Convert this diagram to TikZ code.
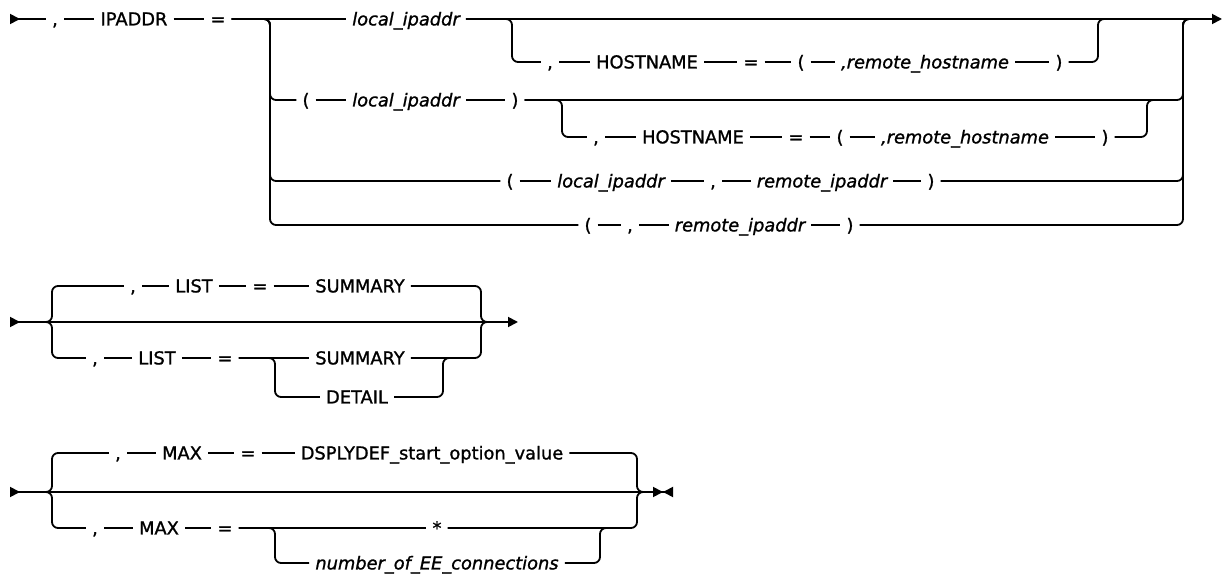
\documentclass[tikz,border=0pt]{standalone}
\usepackage{fontspec}
\setmainfont{DejaVu Sans}[FakeBold=1.2]
\usetikzlibrary{arrows.meta}
\tikzset{
  kw/.style={inner xsep=6pt, inner ysep=0pt, text height=12.8pt, text depth=0pt,
             font=\fontsize{17.8}{21}\selectfont},
  var/.style={kw, font=\fontsize{17.8}{21}\selectfont\itshape},
  rail/.style={line width=1.8pt, rounded corners=6pt},
  railin/.tip={Triangle[reversed, length=10pt, width=10pt]},
  railout/.tip={Triangle[length=10pt, width=10pt]},
  railstop/.tip={Triangle[length=10pt, width=10pt, sep=0pt]Triangle[reversed, length=10pt, width=10pt]}
}
\newcommand{\trailgap}{\hspace{10pt}}

\begin{document}
\begin{tikzpicture}[x=1pt, y=-1pt]
\useasboundingbox (0,0) rectangle (1224,577);
% IPADDR
\coordinate (ip-in) at (10,19);
\coordinate (ip-out) at (1222,19);
\coordinate (ip-l) at (270,19);
\coordinate (ip-r) at (1183,19);
\coordinate (hn1-l) at (512,19);
\coordinate (hn1-r) at (1098,19);
\coordinate (hn2-l) at (562,100);
\coordinate (hn2-r) at (1147,100);
\node[kw] (ip-comma) at (55,19) {,};
\node[kw] (ipaddr) at (134,19) {IPADDR};
\node[kw] (ip-eq) at (218,19) {=};
\node[var] (loc1) at (406,19) {local\_ipaddr};
\node[kw] (hn1-comma) at (550,62) {,};
\node[kw] (hn1) at (647,62) {HOSTNAME};
\node[kw] (hn1-eq) at (751,62) {=};
\node[kw] (hn1-lp) at (801,62) {(};
\node[var] (hn1-rh) at (925,62) {,remote\_hostname};
\node[kw] (hn1-rp) at (1059,62) {)};
\node[kw] (lp3) at (306,100) {(};
\node[var] (loc3) at (406,100) {local\_ipaddr};
\node[kw] (rp3) at (515,100) {)};
\node[kw] (hn2-comma) at (596,137) {,};
\node[kw] (hn2) at (693,137) {HOSTNAME};
\node[kw] (hn2-eq) at (796,137) {=};
\node[kw] (hn2-lp) at (840,137) {(};
\node[var] (hn2-rh) at (965,137) {,remote\_hostname};
\node[kw] (hn2-rp) at (1105,137) {)};
\node[kw] (lp5) at (510,181) {(};
\node[var] (loc5) at (611,181) {local\_ipaddr};
\node[kw] (c5) at (713,181) {,};
\node[var] (rem5) at (822,181) {remote\_ipaddr};
\node[kw] (rp5) at (931,181) {)};
\node[kw] (lp6) at (588,225) {(};
\node[kw] (c6) at (630,225) {,};
\node[var] (rem6) at (740,225) {remote\_ipaddr};
\node[kw] (rp6) at (850,225) {)};
\draw[rail, railin-] (ip-in) -- (ip-comma);
\draw[rail] (ip-comma) -- (ipaddr) -- (ip-eq) -- (loc1);
\draw[rail, -railout] (loc1) -- (ip-out);
\draw[rail] (loc1.east) -| (hn1-l |- hn1-comma) -- (hn1-comma);
\draw[rail] (hn1-comma) -- (hn1) -- (hn1-eq) -- (hn1-lp) -- (hn1-rh) -- (hn1-rp);
\draw[rail] (hn1-rp.east) -| (hn1-r) -- ++(12,0);
\draw[rail] (ip-eq.east) -| (ip-l |- lp3) -- (lp3);
\draw[rail] (lp3) -- (loc3) -- (rp3);
\draw[rail] (rp3.east) -| (ip-r) -- ++(12,0);
\draw[rail] (rp3.east) -| (hn2-l |- hn2-comma) -- (hn2-comma);
\draw[rail] (hn2-comma) -- (hn2) -- (hn2-eq) -- (hn2-lp) -- (hn2-rh) -- (hn2-rp);
\draw[rail] (hn2-rp.east) -| (hn2-r) -- ++(12,0);
\draw[rail] (ip-eq.east) -| (ip-l |- lp5) -- (lp5);
\draw[rail] (lp5) -- (loc5) -- (c5) -- (rem5) -- (rp5);
\draw[rail] (rp5.east) -| (ip-r) -- ++(12,0);
\draw[rail] (ip-eq.east) -| (ip-l |- lp6) -- (lp6);
\draw[rail] (lp6) -- (c6) -- (rem6) -- (rp6);
\draw[rail] (rp6.east) -| (ip-r) -- ++(12,0);

% LIST
\coordinate (ls-in) at (10,322);
\coordinate (ls-out) at (518,322);
\coordinate (ls-l) at (52,322);
\coordinate (ls-r) at (481,322);
\coordinate (ld-l) at (275,358);
\coordinate (ld-r) at (443,358);
\node[kw] (lt-comma) at (133,286) {,};
\node[kw] (lt-list) at (194,286) {LIST};
\node[kw] (lt-eq) at (260,286) {=};
\node[kw] (lt-sum) at (360,286) {SUMMARY\trailgap};
\node[kw] (lb-comma) at (95,358) {,};
\node[kw] (lb-list) at (157,358) {LIST};
\node[kw] (lb-eq) at (225,358) {=};
\node[kw] (lb-sum) at (360,358) {SUMMARY\trailgap};
\node[kw] (lb-det) at (357,397) {DETAIL};
\draw[rail, railin-railout] (ls-in) -- (ls-out);
\draw[rail] (ls-in) -| (ls-l |- lt-comma) -- (lt-comma);
\draw[rail] (lt-comma) -- (lt-list) -- (lt-eq) -- (lt-sum);
\draw[rail] (lt-sum.east) -| (ls-r) -- ++(12,0);
\draw[rail] (ls-in) -| (ls-l |- lb-comma) -- (lb-comma);
\draw[rail] (lb-comma) -- (lb-list) -- (lb-eq) -- (lb-sum);
\draw[rail] (lb-sum.east) -| (ls-r) -- ++(12,0);
\draw[rail] (lb-eq.east) -| (ld-l |- lb-det) -- (lb-det);
\draw[rail] (lb-det.east) -| (ld-r) -- ++(12,0);

% MAX
\coordinate (mx-in) at (10,492);
\coordinate (mx-out) at (673,492);
\coordinate (mx-l) at (52,492);
\coordinate (mx-r) at (637,492);
\coordinate (mn-l) at (275,528);
\coordinate (mn-r) at (600,528);
\node[kw] (mt-comma) at (118,453) {,};
\node[kw] (mt-max) at (182,453) {MAX};
\node[kw] (mt-eq) at (248,453) {=};
\node[kw] (mt-def) at (432,453) {DSPLYDEF\_start\_option\_value\trailgap};
\node[kw] (mb-comma) at (95,528) {,};
\node[kw] (mb-max) at (159,528) {MAX};
\node[kw] (mb-eq) at (225,528) {=};
\node[kw] (mb-star) at (437,528) {*};
\node[var] (mb-num) at (437,563) {number\_of\_EE\_connections\trailgap};
\draw[rail, railin-railstop] (mx-in) -- (mx-out);
\draw[rail] (mx-in) -| (mx-l |- mt-comma) -- (mt-comma);
\draw[rail] (mt-comma) -- (mt-max) -- (mt-eq) -- (mt-def);
\draw[rail] (mt-def.east) -| (mx-r) -- ++(12,0);
\draw[rail] (mx-in) -| (mx-l |- mb-comma) -- (mb-comma);
\draw[rail] (mb-comma) -- (mb-max) -- (mb-eq) -- (mb-star);
\draw[rail] (mb-star.east) -| (mx-r) -- ++(12,0);
\draw[rail] (mb-eq.east) -| (mn-l |- mb-num) -- (mb-num);
\draw[rail] (mb-num.east) -| (mn-r) -- ++(12,0);
\end{tikzpicture}
\end{document}
